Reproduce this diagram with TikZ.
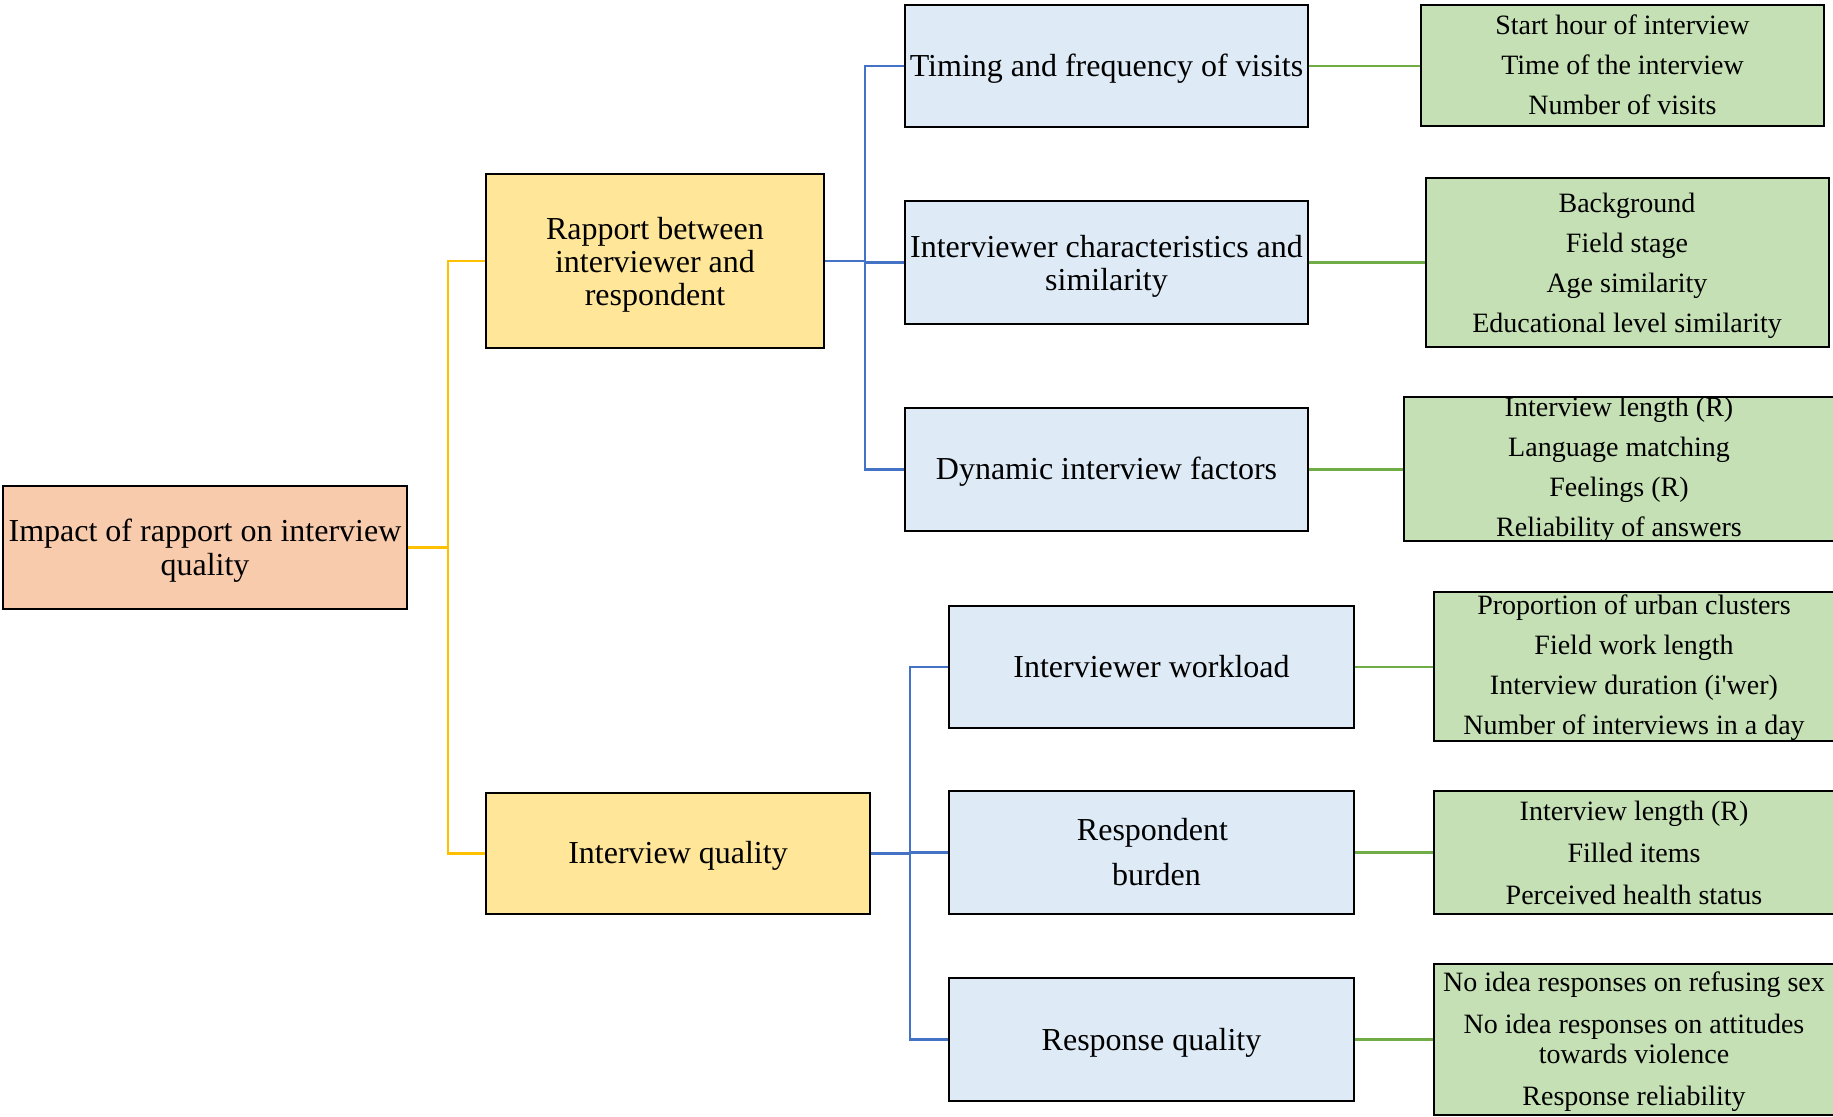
\documentclass[tikz,border=0pt]{standalone}
\usepackage{fontspec}
\setmainfont{Liberation Serif}[Ligatures=TeXOff]
\definecolor{peach}{HTML}{F8CBAD}
\definecolor{yell}{HTML}{FFE699}
\definecolor{lblue}{HTML}{DEEBF7}
\definecolor{lgreen}{HTML}{C5E0B4}
\definecolor{yconn}{HTML}{FFC000}
\definecolor{bconn}{HTML}{4472C4}
\definecolor{gconn}{HTML}{70AD47}
\tikzset{
 box/.style={draw=black, line width=1.2pt, inner sep=0pt},
 rootbox/.style={box, fill=peach},
 ybox/.style={box, fill=yell},
 bbox/.style={box, fill=lblue},
 gbox/.style={box, fill=lgreen},
 mtext/.style={align=center, font=\fontsize{16}{16.5}\selectfont, inner sep=0pt},
 gtext/.style={align=center, font=\fontsize{14}{20}\selectfont, inner sep=0pt},
 yline/.style={draw=yconn, line width=1.1pt},
 bline/.style={draw=bconn, line width=1.1pt},
 gline/.style={draw=gconn, line width=1.1pt},
}
\begin{document}
\begin{tikzpicture}[x=0.5pt,y=-0.5pt]
\clip (0,0) rectangle (1833,1117);
\fill[white] (0,0) rectangle (1833,1117);
% level 0
\node[rootbox, minimum width=201.75pt, minimum height=61.5pt] (root) at (205,547.5) {};
\node[mtext, font=\fontsize{16}{17}\selectfont] (roott) at (205,551) {Impact of rapport on interview\\quality};
% level 1
\node[ybox, minimum width=169pt, minimum height=87pt] (rap) at (655,261) {};
\node[mtext] (rapt) at (655,264.5) {Rapport between\\interviewer and\\respondent};
\node[ybox, minimum width=192pt, minimum height=60.5pt] (iq) at (678,853.5) {};
\node[mtext] (iqt) at (678,856) {Interview quality};
% level 2 top
\node[bbox, minimum width=201.5pt, minimum height=61pt] (tim) at (1106.5,66) {};
\node[mtext] (timt) at (1106.5,69) {Timing and frequency of visits};
\node[bbox, minimum width=201.5pt, minimum height=61.5pt] (ic) at (1106.5,262.5) {};
\node[mtext] (ict) at (1106.5,266) {Interviewer characteristics and\\similarity};
\node[bbox, minimum width=201.5pt, minimum height=61.5pt] (dyn) at (1106.5,469.5) {};
\node[mtext] (dynt) at (1106.5,472) {Dynamic interview factors};
% level 2 bottom
\node[bbox, minimum width=202.5pt, minimum height=61pt] (wl) at (1151.5,667) {};
\node[mtext] (wlt) at (wl.center) {Interviewer workload};
\node[bbox, minimum width=202.5pt, minimum height=61.5pt] (rb) at (1151.5,852.5) {};
\node[mtext] (rbt) at (1152.5,852.5) {Respondent\\[6pt]\hspace*{4pt}burden};
\node[bbox, minimum width=202.5pt, minimum height=61.5pt] (rq) at (1151.5,1039.5) {};
\node[mtext] (rqt) at (1151.5,1043) {Response quality};
% level 3
\node[gbox, minimum width=201.5pt, minimum height=60.5pt] (g1) at (1622.5,65.5) {};
\node[gtext] (g1t) at (1622.5,65) {Start hour of interview\\Time of the interview\\Number of visits};
\node[gbox, minimum width=201.5pt, minimum height=84.5pt] (g2) at (1627.5,262.5) {};
\node[gtext] (g2t) at (1627,265.5) {Background\\Field stage\\Age similarity\\Educational level similarity};
\node[gbox, minimum width=220pt, minimum height=72pt] (g3) at (1624,469) {};
\node[gtext] (g3t) at (1619,470) {Interview length (R)\\Language matching\\Feelings (R)\\Reliability of answers};
\node[gbox, minimum width=210pt, minimum height=74.5pt] (g4) at (1644,666.5) {};
\node[gtext] (g4t) at (1634,667.5) {Proportion of urban clusters\\Field work length\\Interview duration (i'wer)\\Number of interviews in a day};
\node[gbox, minimum width=210pt, minimum height=61.5pt] (g5) at (1644,852.5) {};
\node[gtext, font=\fontsize{14}{21}\selectfont] (g5t) at (1634,853) {Interview length (R)\\Filled items\\Perceived health status};
\node[gbox, minimum width=210pt, minimum height=75.5pt] (g6) at (1644,1039.5) {};
\node[gtext, font=\fontsize{14}{15}\selectfont] (g6t) at (1634,1042) {No idea responses on refusing sex\\[6pt]No idea responses on attitudes\\towards violence\\[6pt]Response reliability};
% connectors
\draw[yline] (root.east) -- ++(40,0) coordinate (ybus) |- (rap.west);
\draw[yline] (ybus) |- (iq.west);
\draw[bline] (rap.east) -- ++(40,0) coordinate (bbus1) |- (tim.west);
\draw[bline] (bbus1) |- (ic.west);
\draw[bline] (bbus1) |- (dyn.west);
\draw[bline] (iq.east) -- ++(39,0) coordinate (bbus2) |- (wl.west);
\draw[bline] (bbus2) |- (rb.west);
\draw[bline] (bbus2) |- (rq.west);
\draw[gline] (tim.east) -- (tim.east -| g1.west);
\draw[gline] (ic.east) -- (ic.east -| g2.west);
\draw[gline] (dyn.east) -- (dyn.east -| g3.west);
\draw[gline] (wl.east) -- (wl.east -| g4.west);
\draw[gline] (rb.east) -- (rb.east -| g5.west);
\draw[gline] (rq.east) -- (rq.east -| g6.west);
\end{tikzpicture}
\end{document}
